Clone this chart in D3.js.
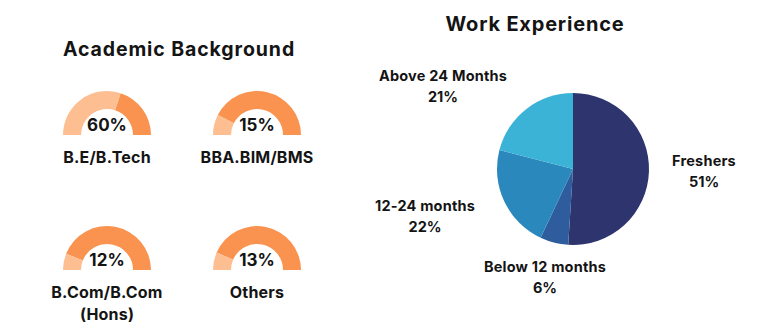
<!DOCTYPE html>
<html><head><meta charset="utf-8">
<script src="https://cdn.jsdelivr.net/npm/d3@7"></script>
<style>body{margin:0;background:#fff}svg{display:block;font-family:Inter,"Open Sans",sans-serif;font-weight:700}</style>
</head><body><svg id="c" width="768" height="332"></svg>
<script>
const eduLabels = [["B.E/B.Tech"], ["BBA.BIM/BMS"], ["B.Com/B.Com", "(Hons)"], ["Others"]];
const eduValues = [60, 15, 12, 13];
const expCategories = ["Freshers", "Below 12 months", "12-24 months", "Above 24 Months"];
const expValues = [51, 6, 22, 21];

const svg = d3.select("#c");
const ink = "#141414";

svg.append("text").attr("x", 179).attr("y", 56).attr("text-anchor", "middle")
  .attr("font-size", 19.5).attr("letter-spacing", 0.9).attr("fill", ink).text("Academic Background");
svg.append("text").attr("x", 535).attr("y", 31).attr("text-anchor", "middle")
  .attr("font-size", 20).attr("letter-spacing", 0.8).attr("fill", ink).text("Work Experience");

// gauges
const gx = d3.scaleOrdinal().domain([0,1,2,3]).range([107, 257, 107, 257]);
const gy = d3.scaleOrdinal().domain([0,1,2,3]).range([135, 135, 270, 270]);
const ang = d3.scaleLinear().domain([0, 100]).range([-Math.PI/2, Math.PI/2]);
const gArc = d3.arc().innerRadius(26).outerRadius(44);

eduValues.forEach((v, i) => {
  const g = svg.append("g").attr("transform", `translate(${gx(i)},${gy(i)})`);
  g.append("path").attr("d", gArc({startAngle: ang(v), endAngle: ang(100)})).attr("fill", "#FA9350");
  g.append("path").attr("d", gArc({startAngle: ang(0), endAngle: ang(v)})).attr("fill", "#FDBE92");
  g.append("text").attr("y", -4).attr("text-anchor", "middle").attr("font-size", 17)
    .attr("fill", ink).text(v + "%");
  eduLabels[i].forEach((t, k) => {
    g.append("text").attr("y", 28 + k * 22).attr("text-anchor", "middle").attr("font-size", 16)
      .attr("letter-spacing", 0.2).attr("fill", ink).text(t);
  });
});

// pie
const pieColors = d3.scaleOrdinal().domain(expCategories).range(["#2E346E", "#2F5C9C", "#2A88BD", "#3AB3D6"]);
const pie = d3.pie().sort(null).value(d => d.v);
const arcs = pie(expCategories.map((c, i) => ({c, v: expValues[i]})));
const pArc = d3.arc().innerRadius(0).outerRadius(76);
const pg = svg.append("g").attr("transform", "translate(573,169)");
pg.selectAll("path").data(arcs).join("path").attr("d", pArc)
  .attr("fill", d => pieColors(d.data.c)).attr("stroke", "none");

const labPos = [[704, 166], [545, 272], [425, 211], [443, 81]];
arcs.forEach((a, i) => {
  const t = svg.append("g").attr("transform", `translate(${labPos[i][0]},${labPos[i][1]})`);
  t.append("text").attr("text-anchor", "middle").attr("font-size", 14.5).attr("letter-spacing", 0.2).attr("fill", ink).text(a.data.c);
  t.append("text").attr("y", 21).attr("text-anchor", "middle").attr("font-size", 14.5).attr("fill", ink).text(a.data.v + "%");
});
</script></body></html>
